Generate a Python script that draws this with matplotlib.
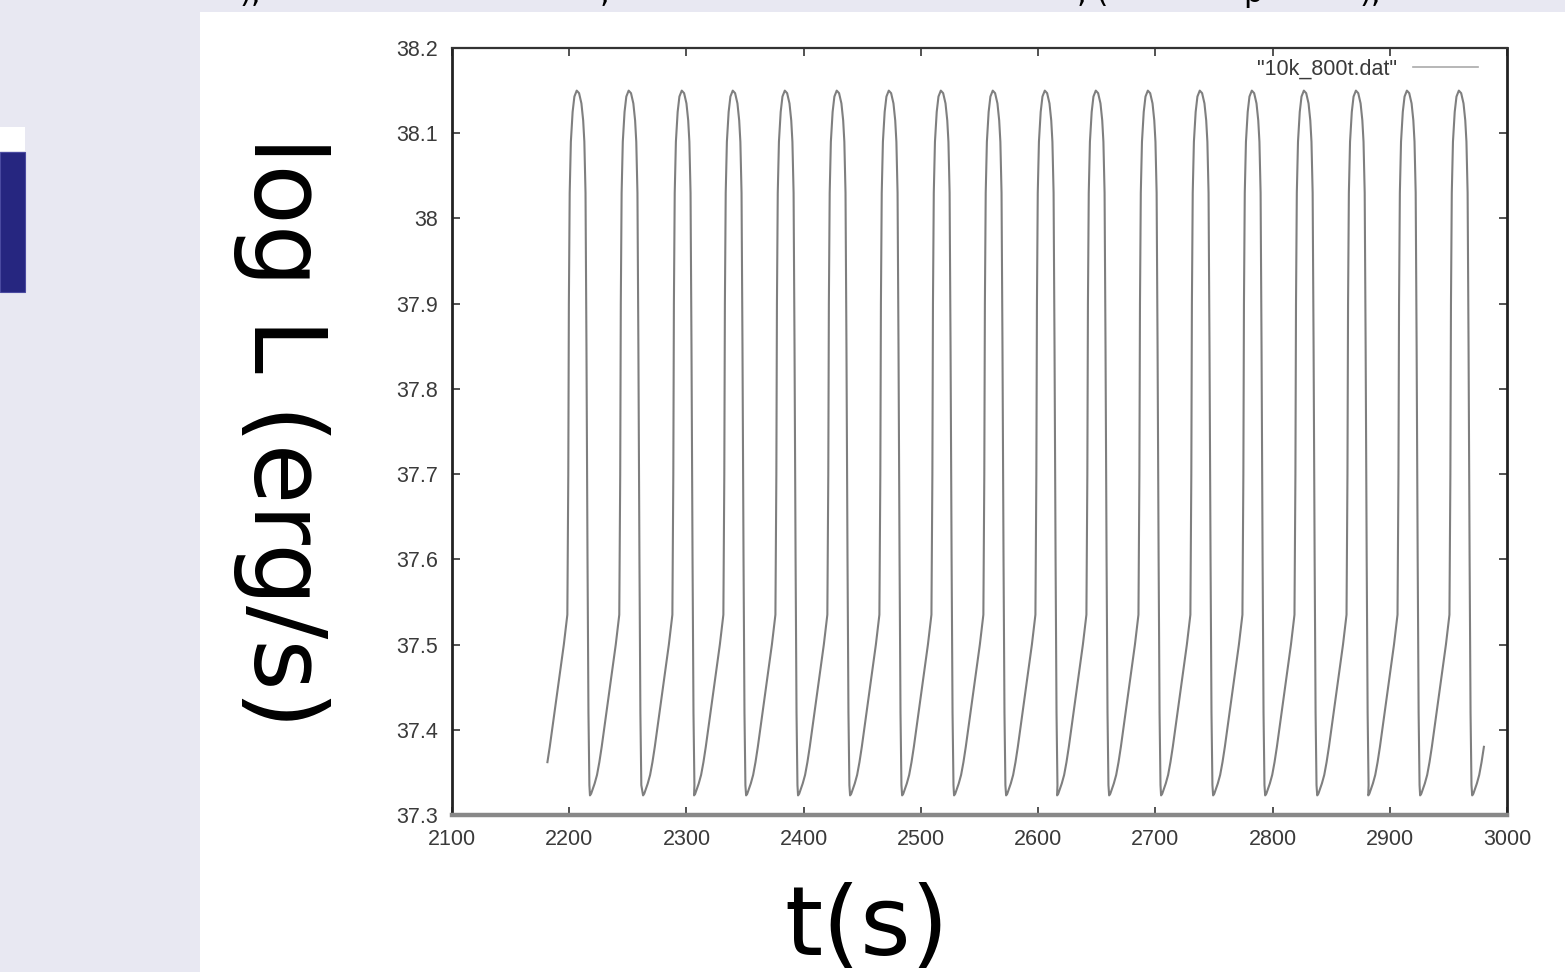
import numpy as np
import matplotlib
matplotlib.use("Agg")
import matplotlib.pyplot as plt
from matplotlib.patches import Rectangle

# times of the light-curve minima (s)
min_times = [2173.4, 2217.7, 2263.0, 2306.5, 2350.9, 2395.2, 2439.6, 2484.0,
             2528.3, 2572.7, 2616.2, 2660.6, 2704.9, 2749.3, 2793.7, 2838.1,
             2881.6, 2925.9, 2970.3]
# shape of one burst cycle, seconds after the minimum vs log L
cycle_dt = [0.0, 1.0, 2.0, 4.0, 6.0, 8.0, 10.0, 14.0, 18.0, 22.0, 25.0, 25.8,
            26.3, 27.0, 28.0, 29.5, 31.0, 33.0, 35.0, 37.0, 38.5, 39.5, 40.5,
            41.3, 42.2, 43.0, 43.8]
cycle_logL = [37.323, 37.325, 37.329, 37.337, 37.347, 37.362, 37.38, 37.42,
              37.46, 37.50, 37.535, 37.70, 37.90, 38.03, 38.09, 38.125,
              38.143, 38.15, 38.147, 38.135, 38.115, 38.09, 38.03, 37.85,
              37.60, 37.42, 37.335]
t_first = 2181.0
t_last = 2981.0

xticks = [2100, 2200, 2300, 2400, 2500, 2600, 2700, 2800, 2900, 3000]
yticks = [37.3, 37.4, 37.5, 37.6, 37.7, 37.8, 37.9, 38.0, 38.1, 38.2]
ytick_labels = ["37.3", "37.4", "37.5", "37.6", "37.7", "37.8", "37.9", "38", "38.1", "38.2"]

# build the series from the cycles
t = np.concatenate([m + np.array(cycle_dt) for m in min_times])
logL = np.tile(cycle_logL, len(min_times))
keep = (t >= t_first) & (t <= t_last)
t = t[keep]
logL = logL[keep]

W, H = 1565, 972
fig = plt.figure(figsize=(W / 100, H / 100), dpi=100)
fig.patch.set_facecolor("#e8e8f2")

# slide decorations (behind the axes)
fig.patches.append(Rectangle((200 / W, 0), 1 - 200 / W, 1 - 12 / H,
                             transform=fig.transFigure, facecolor="white",
                             edgecolor="none", zorder=-10))
fig.patches.append(Rectangle((0, 1 - 151 / H), 25 / W, 24 / H,
                             transform=fig.transFigure, facecolor="white",
                             edgecolor="none", zorder=-10))
fig.patches.append(Rectangle((0, 1 - 292 / H), 25 / W, 140 / H,
                             transform=fig.transFigure, facecolor="#262680",
                             edgecolor="#4a4aa0", linewidth=0.8, zorder=-10))

# clipped text line at the very top of the slide
for xp, s in [(240, "),"), (600, ","), (1077, ", ("), (1243, "p"), (1360, "),")]:
    fig.text(xp / W, 1 - 2 / H, s, fontsize=22, color="black", va="baseline", ha="left")

ax = fig.add_axes([452 / W, 1 - 815 / H, 1055 / W, 767 / H])
ax.set_zorder(5)
ax.plot(t, logL, color="#7f7f7f", lw=1.5, label='"10k_800t.dat"')
ax.set_xlim(2100, 3000)
ax.set_ylim(37.3, 38.2)
ax.set_xticks(xticks)
ax.set_yticks(yticks)
ax.set_yticklabels(ytick_labels)

ax.tick_params(direction="in", length=6, width=1.3, colors="#444",
               labelsize=15.5, labelcolor="#3a3a3a", top=True, right=True, pad=10)
for lab in ax.get_xticklabels() + ax.get_yticklabels():
    lab.set_fontfamily("Liberation Sans")

ax.spines["left"].set_color("#222")
ax.spines["left"].set_linewidth(2.0)
ax.spines["top"].set_color("#333")
ax.spines["top"].set_linewidth(1.6)
ax.spines["right"].set_color("#222")
ax.spines["right"].set_linewidth(2.0)
ax.spines["bottom"].set_color("#888")
ax.spines["bottom"].set_linewidth(3.2)

leg = ax.legend(loc="upper right", frameon=False, markerfirst=False,
                prop={"family": "Liberation Sans", "size": 15.5},
                handlelength=3.0, handletextpad=0.75, borderaxespad=0,
                borderpad=0, bbox_to_anchor=(1 - 29 / 1055, 1 - 11 / 767))
for line in leg.get_lines():
    line.set_color("#aaaaaa")
    line.set_linewidth(1.2)
for txt in leg.get_texts():
    txt.set_color("#3a3a3a")

# axis titles as on the slide
fig.text(281 / W, 1 - 432 / H, "log L (erg/s)", rotation=270, fontsize=71,
         ha="center", va="center", color="black")
fig.text(867 / W, 1 - 955 / H, "t(s)", fontsize=70, ha="center",
         va="baseline", color="black")

fig.savefig("out.png", dpi=100, facecolor=fig.get_facecolor())
